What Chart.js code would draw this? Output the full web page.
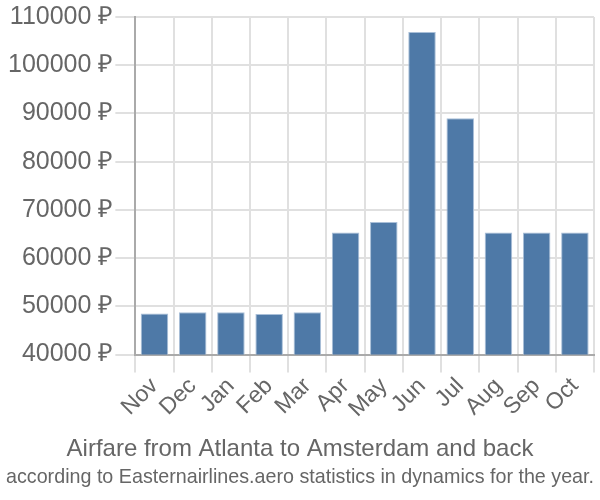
<!DOCTYPE html>
<html>
<head>
<meta charset="utf-8">
<script src="https://cdn.jsdelivr.net/npm/chart.js@4/dist/chart.umd.min.js"></script>
<style>
html,body{margin:0;padding:0;background:#fff;}
#wrap{width:600px;height:500px;}
</style>
</head>
<body>
<div id="wrap"><canvas id="c" width="600" height="500"></canvas></div>
<script>
const categories = ["Nov","Dec","Jan","Feb","Mar","Apr","May","Jun","Jul","Aug","Sep","Oct"];
const fares = [48500, 48800, 48800, 48400, 48800, 65300, 67500, 106900, 89000, 65300, 65300, 65300];
const yMin = 40000, yMax = 110000, yStep = 10000;
const currency = " ₽";
const titleText = "Airfare from Atlanta to Amsterdam and back";
const subtitleText = "according to Easternairlines.aero statistics in dynamics for the year.";

const FONT = "'Liberation Sans', Arial, sans-serif";
new Chart(document.getElementById('c'), {
  type: 'bar',
  data: {
    labels: categories,
    datasets: [{
      data: fares,
      backgroundColor: '#4e79a7',
      borderColor: '#a9bfd8',
      borderWidth: 1,
      categoryPercentage: 0.72,
      barPercentage: 1.0
    }]
  },
  options: {
    responsive: false,
    animation: false,
    layout: { padding: { top: 4, right: 6, left: 6, bottom: 10 } },
    plugins: {
      legend: { display: false },
      tooltip: { enabled: false },
      title: {
        display: true, position: 'bottom', text: titleText, weight: 1500,
        color: '#666', font: { family: FONT, size: 24, weight: 'normal' },
        padding: { top: 12, bottom: 2 }
      },
      subtitle: {
        display: true, position: 'bottom', text: subtitleText, weight: 2000,
        color: '#666', font: { family: FONT, size: 20.3, weight: 'normal' },
        padding: { top: 0, bottom: 0 }
      }
    },
    scales: {
      x: {
        grid: { color: '#e0e0e0', lineWidth: 2, tickLength: 18, offset: true },
        border: { color: '#aaa', width: 2 },
        ticks: { color: '#666', font: { family: FONT, size: 23 }, maxRotation: 45, minRotation: 45, padding: 0, autoSkip: false }
      },
      y: {
        min: yMin, max: yMax,
        grid: { color: '#e0e0e0', lineWidth: 2, tickLength: 20 },
        border: { color: '#aaa', width: 2 },
        ticks: { stepSize: yStep, color: '#666', font: { family: FONT, size: 25 }, padding: 2,
          callback: v => v + currency }
      }
    }
  }
});
</script>
</body>
</html>
